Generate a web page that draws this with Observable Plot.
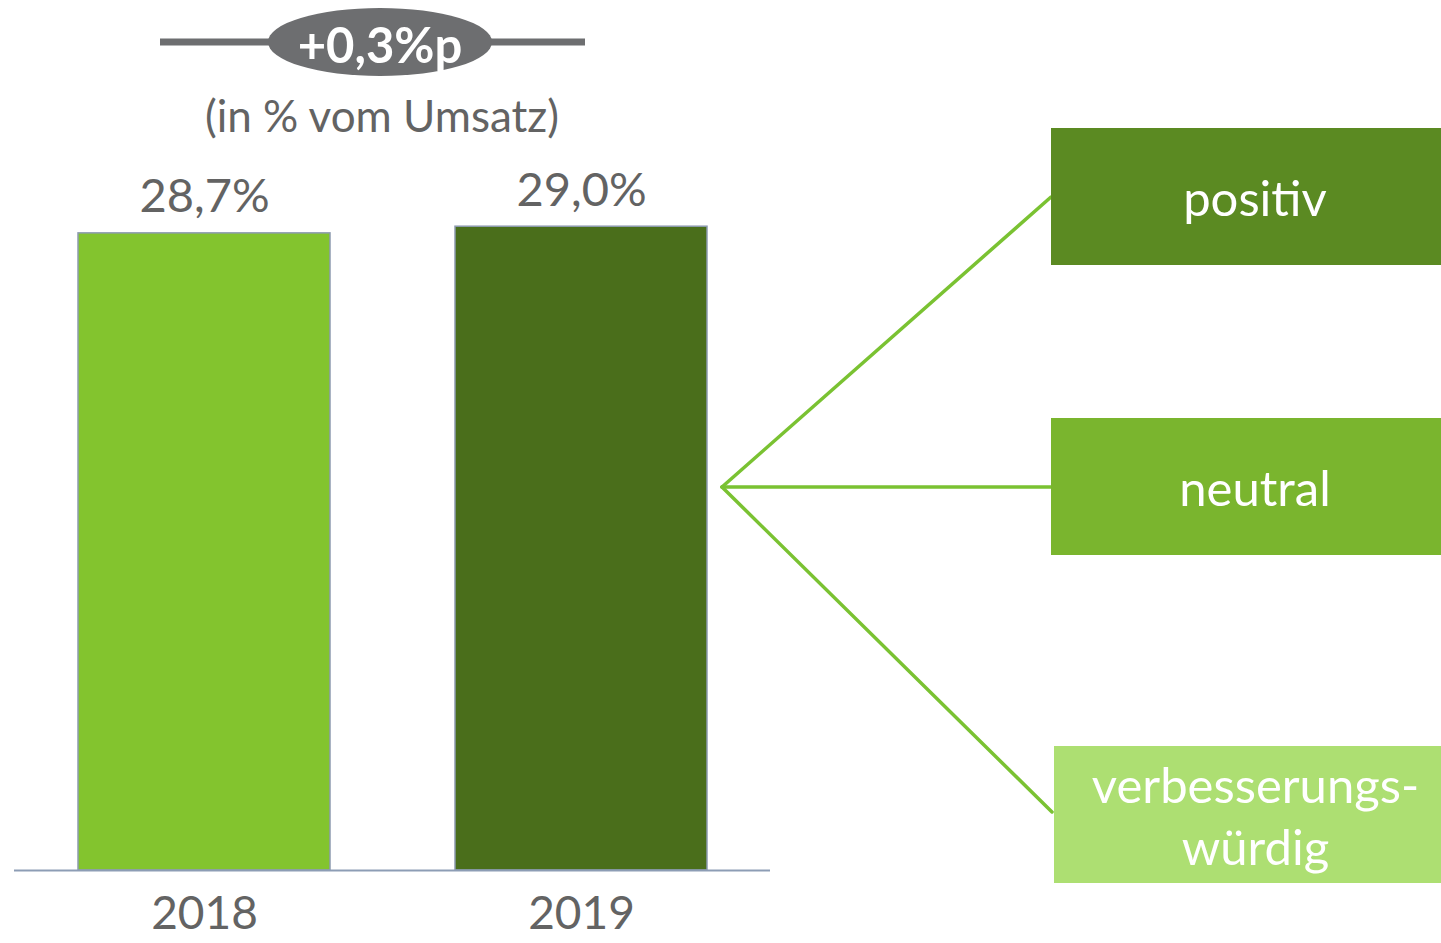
<!DOCTYPE html>
<html>
<head>
<meta charset="utf-8">
<script src="https://cdn.jsdelivr.net/npm/d3@7"></script>
<script src="https://cdn.jsdelivr.net/npm/@observablehq/plot@0.6"></script>
<style>
  html, body { margin: 0; padding: 0; background: #fff; }
  #wrap { position: relative; width: 1441px; height: 943px; overflow: hidden; font-family: Lato, "Open Sans", sans-serif; }
  #wrap > svg { position: absolute; left: 0; top: 0; overflow: visible; }
  .box { position: absolute; display: flex; align-items: center; justify-content: center; text-align: center; color: #fff; font-size: 49px; line-height: 62px; box-sizing: border-box; }
</style>
</head>
<body>
<div id="wrap"></div>
<script>
// ---- data ----
const years = ["2018", "2019"];
const values = [28.7, 29.0];
const barColors = ["#83c42e", "#4a6e1b"];
const valueLabels = ["28,7%", "29,0%"];
const subtitle = "(in % vom Umsatz)";
const categories = ["positiv", "neutral", "verbesserungs-\nwürdig"];
const categoryColors = ["#5b8a22", "#7ab52e", "#addf72"];

const data = years.map((y, i) => ({year: y, value: values[i], color: barColors[i], label: valueLabels[i]}));
const delta = values[1] - values[0];
const deltaText = (delta >= 0 ? "+" : "") + delta.toFixed(1).replace(".", ",") + "%p";

const W = 1441, H = 943;
const grey = "#636363";

const chart = Plot.plot({
  width: W,
  height: H,
  marginLeft: 14,
  marginRight: W - 770,
  marginTop: 0,
  marginBottom: H - 870,
  style: {fontFamily: "Lato, 'Open Sans', sans-serif", background: "transparent", overflow: "visible"},
  x: {domain: years, paddingInner: 0.332, paddingOuter: 0.1665, axis: null},
  y: {domain: [0, 30], range: [870, 870 - 30 * 22.2], axis: null},
  marks: [
    Plot.barY(data, {x: "year", y: "value", fill: "color", stroke: "#8d9bb0", strokeWidth: 1.5}),
    Plot.ruleY([0], {stroke: "#8d9db5", strokeWidth: 2}),
    Plot.text(data, {x: "year", y: "value", text: "label", dy: -36, fontSize: 47, fill: grey}),
    Plot.text(data, {x: "year", y: 0, text: "year", dy: 44, fontSize: 46, fill: grey})
  ]
});

const wrap = document.getElementById("wrap");
wrap.appendChild(chart);

// ---- decoration overlay ----
const ns = "http://www.w3.org/2000/svg";
const svg = d3.select(wrap).append("svg").attr("width", W).attr("height", H).attr("xmlns", ns);

// delta annotation
svg.append("line").attr("x1", 160).attr("x2", 585).attr("y1", 42).attr("y2", 42)
  .attr("stroke", "#6d6e70").attr("stroke-width", 7);
svg.append("ellipse").attr("cx", 380).attr("cy", 42).attr("rx", 112).attr("ry", 34).attr("fill", "#6d6e70");
svg.append("text").attr("x", 380).attr("y", 44).attr("text-anchor", "middle").attr("dominant-baseline", "central")
  .attr("fill", "#fff").attr("font-weight", "bold").attr("font-size", 49)
  .attr("font-family", "Lato, 'Open Sans', sans-serif").text(deltaText);
svg.append("text").attr("x", 382).attr("y", 115).attr("text-anchor", "middle").attr("dominant-baseline", "central")
  .attr("fill", grey).attr("font-size", 44)
  .attr("font-family", "Lato, 'Open Sans', sans-serif").text(subtitle);

// connectors
const origin = [722, 487];
const targets = [[1051, 197], [1051, 487], [1052, 812]];
targets.forEach(t => {
  svg.append("line").attr("x1", origin[0]).attr("y1", origin[1]).attr("x2", t[0]).attr("y2", t[1])
    .attr("stroke", "#7ac232").attr("stroke-width", 3.5).attr("stroke-linecap", "round");
});

// boxes
const boxes = [
  {x: 1051, y: 128, w: 390, h: 137, pad: 18},
  {x: 1051, y: 418, w: 390, h: 137, pad: 18},
  {x: 1054, y: 746, w: 387, h: 137, pad: 16}
];
boxes.forEach((b, i) => {
  const d = document.createElement("div");
  d.className = "box";
  Object.assign(d.style, {left: b.x + "px", top: b.y + "px", width: b.w + "px", height: b.h + "px",
    background: categoryColors[i], paddingLeft: b.pad + "px"});
  d.innerHTML = categories[i].split("\n").join("<br>");
  wrap.appendChild(d);
});
</script>
</body>
</html>
